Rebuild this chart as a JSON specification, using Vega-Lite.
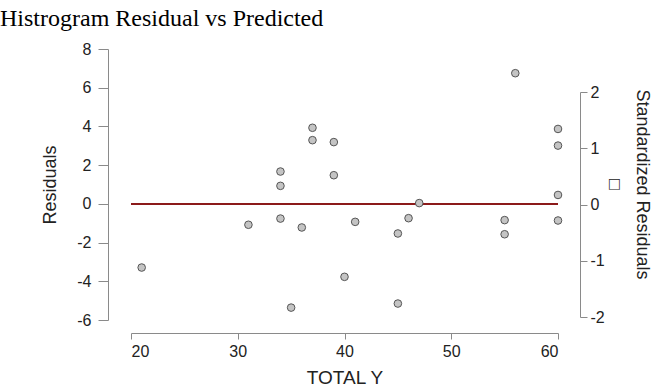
{
  "$schema": "https://vega.github.io/schema/vega-lite/v6.json",
  "width": 427,
  "height": 271,
  "autosize": {"type": "none"},
  "padding": {"left": 131, "top": 49, "right": 101, "bottom": 67},
  "background": "white",
  "title": {
    "text": "Histrogram Residual vs Predicted",
    "anchor": "start",
    "frame": "group",
    "dx": -131,
    "dy": 13,
    "offset": 4,
    "font": "Liberation Serif",
    "fontSize": 24,
    "fontWeight": "normal",
    "color": "#000000",
    "baseline": "alphabetic"
  },
  "config": {
    "view": {"stroke": null},
    "axis": {
      "grid": false,
      "domainColor": "#8a8a8a",
      "tickColor": "#8a8a8a",
      "labelColor": "#222222",
      "titleColor": "#222222",
      "labelFont": "Liberation Sans",
      "titleFont": "Liberation Sans",
      "titleFontWeight": "normal",
      "labelFontSize": 15,
      "titleFontSize": 18,
      "labelExpr": "toString(datum.value)"
    }
  },
  "data": {
    "values": [
      {"total_y": 21, "residual": -3.29},
      {"total_y": 31, "residual": -1.08},
      {"total_y": 34, "residual": 1.67},
      {"total_y": 34, "residual": 0.93},
      {"total_y": 34, "residual": -0.76},
      {"total_y": 35, "residual": -5.36},
      {"total_y": 36, "residual": -1.22},
      {"total_y": 37, "residual": 3.93},
      {"total_y": 37, "residual": 3.29},
      {"total_y": 39, "residual": 3.19},
      {"total_y": 39, "residual": 1.48},
      {"total_y": 40, "residual": -3.77},
      {"total_y": 41, "residual": -0.93},
      {"total_y": 45, "residual": -1.53},
      {"total_y": 45, "residual": -5.15},
      {"total_y": 46, "residual": -0.74},
      {"total_y": 47, "residual": 0.04},
      {"total_y": 55, "residual": -0.84},
      {"total_y": 55, "residual": -1.57},
      {"total_y": 56, "residual": 6.75},
      {"total_y": 60, "residual": 3.87},
      {"total_y": 60, "residual": 3.01},
      {"total_y": 60, "residual": 0.46},
      {"total_y": 60, "residual": -0.86}
    ]
  },
  "layer": [
    {
      "layer": [
        {
          "mark": {"type": "rule", "color": "#8b1a1a", "strokeWidth": 1.5},
          "encoding": {
            "x": {"datum": 20, "type": "quantitative"},
            "x2": {"datum": 60},
            "y": {"datum": 0, "type": "quantitative"}
          }
        },
        {
          "mark": {"type": "point", "shape": "circle", "filled": true, "size": 58, "fill": "#c4c4c4", "stroke": "#555555", "strokeWidth": 1, "opacity": 1},
          "encoding": {
            "x": {"field": "total_y", "type": "quantitative"},
            "y": {"field": "residual", "type": "quantitative"}
          }
        }
      ],
      "encoding": {
        "x": {
          "type": "quantitative",
          "scale": {"domain": [20, 60], "nice": false, "zero": false},
          "axis": {"title": "TOTAL Y", "values": [20, 30, 40, 50, 60], "offset": 13, "tickSize": 6, "labelPadding": 4, "labelFontSize": 16, "titleFontSize": 19, "titlePadding": 9}
        },
        "y": {
          "type": "quantitative",
          "scale": {"domain": [-6, 8], "nice": false, "zero": false},
          "axis": {"title": "Residuals", "values": [-6, -4, -2, 0, 2, 4, 6, 8], "offset": 23, "tickSize": 10, "labelPadding": 7, "labelFontSize": 16, "titlePadding": 17}
        }
      }
    },
    {
      "mark": {"type": "point", "opacity": 0},
      "encoding": {
        "y": {
          "datum": 0,
          "type": "quantitative",
          "scale": {"domain": [-2, 2], "range": [268, 43], "nice": false, "zero": false},
          "axis": {"orient": "right", "title": ["Standardized Residuals", "□"], "values": [-2, -1, 0, 1, 2], "offset": 22, "tickSize": 7, "labelPadding": 3, "labelFontSize": 16, "titlePadding": 0, "titleLineHeight": 28, "titleY": 135}
        }
      }
    }
  ],
  "resolve": {"scale": {"y": "independent"}}
}
